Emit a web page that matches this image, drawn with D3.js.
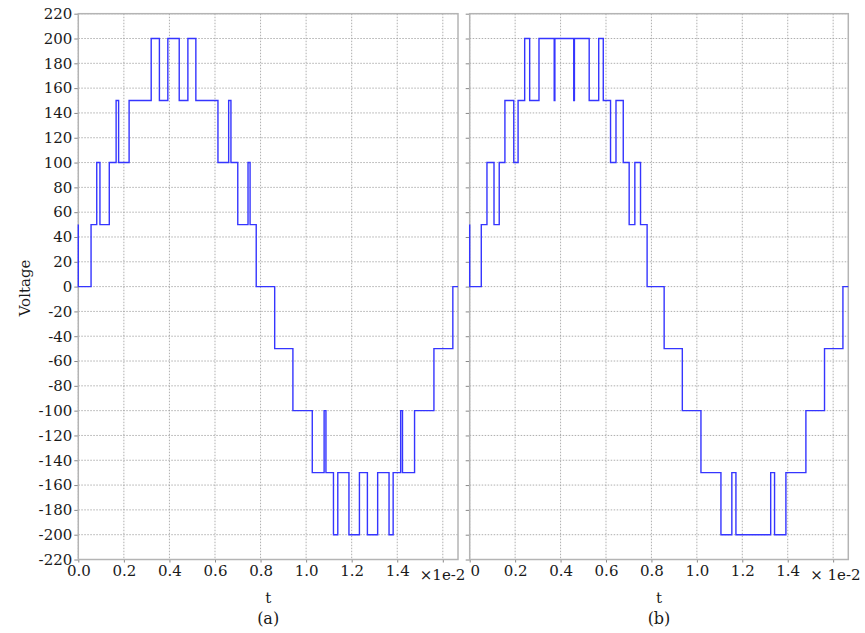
<!DOCTYPE html>
<html>
<head>
<meta charset="utf-8">
<script src="https://cdnjs.cloudflare.com/ajax/libs/d3/7.8.5/d3.min.js"></script>
<style>
  body { margin: 0; background: #fff; }
  svg { display: block; }
  svg text { font-family: "DejaVu Serif", "Liberation Serif", serif; fill: #1a1a1a; }
  .grid line { stroke: #9a9a9a; stroke-width: 0.8; stroke-dasharray: 1.5,1.5; }
  .frame { fill: none; stroke: #b4b4b4; stroke-width: 1.5; }
  .axis path { display: none; }
  .axis line { stroke: #888; }
  .axis text { font-size: 15px; }
  .wave { fill: none; stroke: #3535ff; stroke-width: 1.4; }
  .lbl { font-size: 15px; }
</style>
</head>
<body>
<div id="chart"></div>
<script>
(function (d3) {
    'use strict';

    // Time in units of 1e-2 s, one period of 1/60 s.
    var tEnd = 5 / 3;
    var xTicks = [0, 0.2, 0.4, 0.6, 0.8, 1.0, 1.2, 1.4, 1.6];
    var yTicks = d3.range(-220, 221, 20);

    // (a) switching instants and the level held after each one.
    var tA = [0, 0, 0.056, 0.081, 0.095, 0.136, 0.166, 0.177, 0.223, 0.320, 0.356,
              0.393, 0.443, 0.481, 0.516, 0.613, 0.660, 0.670, 0.700, 0.745, 0.754,
              0.781, 0.862, 0.942, 1.027, 1.079, 1.087, 1.120, 1.139, 1.188, 1.234,
              1.269, 1.314, 1.364, 1.382, 1.415, 1.423, 1.476, 1.561, 1.644, tEnd];
    var vA = [50, 0, 50, 100, 50, 100, 150, 100, 150, 200, 150,
              200, 150, 200, 150, 100, 150, 100, 50, 100, 50,
              0, -50, -100, -150, -100, -150, -200, -150, -200, -150,
              -200, -150, -200, -150, -100, -150, -100, -50, 0, 0];

    // (b) switching instants and levels.
    var tB = [0, 0, 0.051, 0.076, 0.107, 0.130, 0.155, 0.194, 0.213, 0.242, 0.264,
              0.305, 0.372, 0.375, 0.458, 0.461, 0.526, 0.568, 0.588, 0.620, 0.644,
              0.676, 0.702, 0.727, 0.752, 0.781, 0.856, 0.936, 1.018, 1.106, 1.154,
              1.172, 1.325, 1.342, 1.392, 1.480, 1.562, 1.643, tEnd];
    var vB = [50, 0, 50, 100, 50, 100, 150, 100, 150, 200, 150,
              200, 150, 200, 150, 200, 150, 200, 150, 100, 150,
              100, 50, 100, 50, 0, -50, -100, -150, -200, -150,
              -200, -150, -200, -150, -100, -50, 0, 0];

    var svgW = 865, svgH = 633;
    var top = 13.7, bottom = 559.5;

    var panels = [
        {left: 78.3, right: 458, t: tA, v: vA, zero: '0.0', zeroShift: 0,
         yLabels: true, unit: '\u00d71e-2', tag: '(a)'},
        {left: 469.7, right: 848.3, t: tB, v: vB, zero: '0', zeroShift: 5,
         yLabels: false, unit: '\u00d7 1e-2', tag: '(b)'}
    ];

    var svg = d3.select('#chart').append('svg')
        .attr('width', svgW)
        .attr('height', svgH);

    var y = d3.scaleLinear().domain([-220, 220]).range([bottom, top]);

    panels.forEach(draw);

    // Y axis title
    svg.append('text')
        .attr('class', 'lbl')
        .attr('transform', 'translate(30,288) rotate(-90)')
        .attr('text-anchor', 'middle')
        .text('Voltage');

    function draw(p) {
        var x = d3.scaleLinear().domain([0, tEnd]).range([p.left, p.right]);
        var g = svg.append('g');

        // grid
        var grid = g.append('g').attr('class', 'grid');
        grid.selectAll('.gx').data(xTicks).enter().append('line')
            .attr('x1', function(d) { return x(d); })
            .attr('x2', function(d) { return x(d); })
            .attr('y1', top)
            .attr('y2', bottom);
        grid.selectAll('.gy').data(yTicks).enter().append('line')
            .attr('x1', p.left)
            .attr('x2', p.right)
            .attr('y1', function(d) { return y(d); })
            .attr('y2', function(d) { return y(d); });

        // x axis
        var xa = g.append('g')
            .attr('class', 'axis')
            .attr('transform', 'translate(0,' + bottom + ')')
            .call(d3.axisBottom(x)
                .tickValues(xTicks)
                .tickSize(3)
                .tickPadding(3)
                .tickFormat(function(d) {
                    if (d === 1.6) return '';
                    return d === 0 ? p.zero : d3.format('.1f')(d);
                }));
        xa.attr('font-family', null).attr('font-size', null);
        xa.selectAll('.tick text')
            .attr('dx', function(d) { return d === 0 ? p.zeroShift : 0; });

        g.append('text')
            .attr('class', 'lbl')
            .attr('x', x(1.6) - 23)
            .attr('y', 580)
            .text(p.unit);

        // y axis
        var ya = g.append('g')
            .attr('class', 'axis')
            .attr('transform', 'translate(' + p.left + ',0)')
            .call(d3.axisLeft(y)
                .tickValues(yTicks)
                .tickSize(4)
                .tickPadding(2)
                .tickFormat(function(d) {
                    return p.yLabels ? String(d) : '';
                }));
        ya.attr('font-family', null).attr('font-size', null);

        g.append('rect')
            .attr('class', 'frame')
            .attr('x', p.left)
            .attr('y', top)
            .attr('width', p.right - p.left)
            .attr('height', bottom - top);

        // waveform
        var pts = p.t.map(function(t, i) { return [t, p.v[i]]; });
        var line = d3.line()
            .curve(d3.curveStepAfter)
            .x(function(d) { return x(d[0]); })
            .y(function(d) { return y(d[1]); });

        g.append('path')
            .datum(pts)
            .attr('class', 'wave')
            .attr('d', line);

        var mid = (p.left + p.right) / 2;
        g.append('text')
            .attr('class', 'lbl')
            .attr('x', mid)
            .attr('y', 603)
            .attr('text-anchor', 'middle')
            .text('t');
        g.append('text')
            .attr('class', 'lbl')
            .attr('x', mid)
            .attr('y', 624)
            .attr('text-anchor', 'middle')
            .style('font-size', '16px')
            .text(p.tag);
    }
})(d3);
</script>
</body>
</html>
